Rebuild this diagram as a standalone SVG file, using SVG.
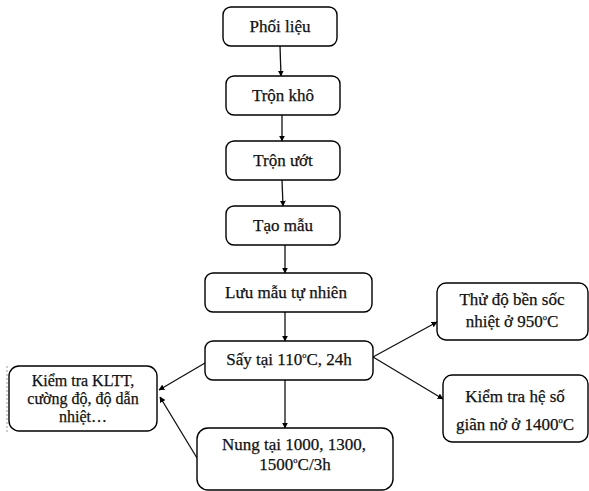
<svg xmlns="http://www.w3.org/2000/svg" width="589" height="491" viewBox="0 0 589 491">
<defs>
<marker id="ah" viewBox="0 0 10 10" refX="9" refY="5" markerWidth="6" markerHeight="6" orient="auto" markerUnits="userSpaceOnUse">
<path d="M0,0 L10,5 L0,10 z" fill="#000"/>
</marker>
<style>
.box{fill:#fff;stroke:#000;stroke-width:1.4}
.t{font-family:"Liberation Serif","Times New Roman",serif;font-size:17px;fill:#111;stroke:#111;stroke-width:0.25;text-anchor:middle}
.s{font-size:16px}
.sup{font-size:8.5px}
.c{stroke:#111;stroke-width:1.3;fill:none;marker-end:url(#ah)}
</style>
</defs>
<rect width="589" height="491" fill="#fff"/>
<g id="connectors">
<line class="c" x1="280" y1="46" x2="281" y2="76"/>
<line class="c" x1="282" y1="115" x2="282" y2="141"/>
<line class="c" x1="282" y1="180" x2="283" y2="206"/>
<line class="c" x1="285" y1="245" x2="285" y2="273"/>
<line class="c" x1="285" y1="312" x2="285" y2="341"/>
<line class="c" x1="285" y1="380" x2="285" y2="428"/>
<line class="c" x1="373" y1="357" x2="437" y2="322"/>
<line class="c" x1="373" y1="357" x2="443" y2="399"/>
<line class="c" x1="205" y1="363" x2="159" y2="390"/>
<line class="c" x1="197" y1="458" x2="160" y2="397"/>
</g>
<g id="n1"><rect class="box" x="223" y="7" width="114" height="39" rx="8"/><text class="t" x="280" y="32">Phối liệu</text></g>
<g id="n2"><rect class="box" x="226" y="76" width="114" height="39" rx="8"/><text class="t" x="283" y="101">Trộn khô</text></g>
<g id="n3"><rect class="box" x="226" y="141" width="114" height="39" rx="8"/><text class="t" x="283" y="166">Trộn ướt</text></g>
<g id="n4"><rect class="box" x="226" y="206" width="114" height="39" rx="8"/><text class="t" x="283" y="231">Tạo mẫu</text></g>
<g id="n5"><rect class="box" x="205" y="273" width="167" height="39" rx="8"/><text class="t" x="286" y="298">Lưu mẫu tự nhiên</text></g>
<g id="n6"><rect class="box" x="205" y="341" width="168" height="39" rx="8"/><text class="t" x="289" y="365">Sấy tại 110<tspan class="sup" dy="-7">o</tspan><tspan dy="7">C, 24h</tspan></text></g>
<g id="n7"><rect class="box" x="437" y="283" width="151" height="57" rx="9"/><text class="t" x="512" y="305">Thử độ bền sốc</text><text class="t" x="512" y="327">nhiệt ở 950<tspan class="sup" dy="-7">o</tspan><tspan dy="7">C</tspan></text></g>
<g id="n8"><rect class="box" x="443" y="375" width="145" height="67" rx="9"/><text class="t" x="515" y="402">Kiểm tra hệ số</text><text class="t" x="515" y="430">giãn nở ở 1400<tspan class="sup" dy="-7">o</tspan><tspan dy="7">C</tspan></text></g>
<g id="n9"><line x1="7" y1="366" x2="7" y2="432" stroke="#999" stroke-width="1" stroke-dasharray="2,2"/><rect class="box" x="9" y="366" width="148" height="65" rx="10"/><text class="t s" x="83" y="386">Kiểm tra KLTT,</text><text class="t s" x="83" y="404">cường độ, độ dẫn</text><text class="t s" x="83" y="422">nhiệt…</text></g>
<g id="n10"><rect class="box" x="197" y="428" width="196" height="62" rx="11"/><text class="t" x="294" y="450">Nung tại 1000, 1300,</text><text class="t" x="295" y="470">1500<tspan class="sup" dy="-7">o</tspan><tspan dy="7">C/3h</tspan></text></g>
</svg>
